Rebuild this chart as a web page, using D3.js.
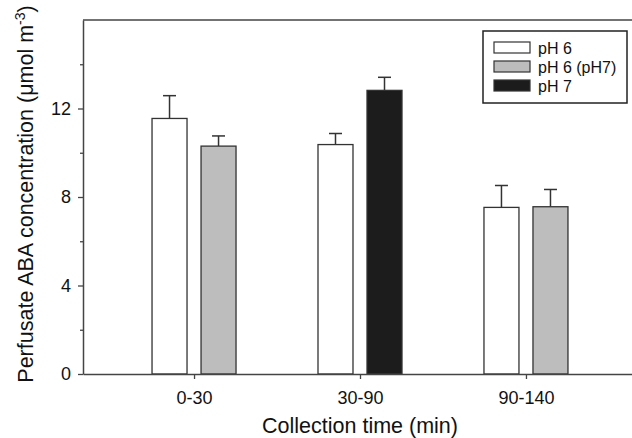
<!DOCTYPE html>
<html>
<head>
<meta charset="utf-8">
<script src="https://cdn.jsdelivr.net/npm/d3@7/dist/d3.min.js"></script>
<style>
  body { margin: 0; background: #fff; }
  svg { display: block; font-family: "Liberation Sans", Arial, sans-serif; }
</style>
</head>
<body>
<svg id="chart" width="632" height="438"></svg>
<script>
// collection periods (x categories)
var groups = ["0-30", "30-90", "90-140"];

// series names and fills
var seriesNames = ["pH 6", "pH 6 (pH7)", "pH 7"];
var seriesFill = ["#ffffff", "#bdbdbd", "#1c1c1c"];

// means per series (null = not measured in that period)
var ph6 = [11.55, 10.37, 7.53];
var ph6ph7 = [10.30, null, 7.56];
var ph7 = [null, 12.82, null];

// standard errors (upper bars only)
var ph6Err = [1.03, 0.50, 0.99];
var ph6ph7Err = [0.46, null, 0.78];
var ph7Err = [null, 0.59, null];

// axis ticks
var yMajor = [0, 4, 8, 12];
var yMinor = [2, 6, 10, 14];

var allMeans = [ph6, ph6ph7, ph7];
var allErrs = [ph6Err, ph6ph7Err, ph7Err];

var plotLeft = 83, plotRight = 637, plotTop = 20, plotBottom = 374;

var svg = d3.select("#chart");

var x = d3.scalePoint()
    .domain(groups)
    .range([plotLeft, plotRight])
    .padding(0.669);

// two bars per period
var xSlot = d3.scaleBand()
    .domain([0, 1])
    .range([-42, 42])
    .paddingInner(0.286);

var y = d3.scaleLinear()
    .domain([0, 16])
    .range([plotBottom, plotTop]);

// build bar records from the series arrays
var bars = [];
groups.forEach(function (g, gi) {
    var slot = 0;
    for (var s = 0; s < allMeans.length; s++) {
        if (allMeans[s][gi] != null) {
            bars.push({ group: g, series: s, slot: slot, value: allMeans[s][gi], err: allErrs[s][gi] });
            slot++;
        }
    }
});

function barCenter(d) {
    return x(d.group) + xSlot(d.slot) + xSlot.bandwidth() / 2;
}

// error bars
var eb = svg.append("g")
    .selectAll("g")
    .data(bars)
    .enter()
    .append("g")
    .attr("stroke", "#333")
    .attr("stroke-width", 1.5);

eb.append("line")
    .attr("x1", barCenter)
    .attr("x2", barCenter)
    .attr("y1", function (d) { return y(d.value); })
    .attr("y2", function (d) { return y(d.value + d.err); });

eb.append("line")
    .attr("x1", function (d) { return barCenter(d) - 6.5; })
    .attr("x2", function (d) { return barCenter(d) + 6.5; })
    .attr("y1", function (d) { return y(d.value + d.err); })
    .attr("y2", function (d) { return y(d.value + d.err); });

// bars
svg.append("g")
    .selectAll("rect")
    .data(bars)
    .enter()
    .append("rect")
    .attr("x", function (d) { return x(d.group) + xSlot(d.slot); })
    .attr("width", xSlot.bandwidth())
    .attr("y", function (d) { return y(d.value); })
    .attr("height", function (d) { return y(0) - y(d.value); })
    .attr("fill", function (d) { return seriesFill[d.series]; })
    .attr("stroke", "#333")
    .attr("stroke-width", 1.3);

// frame top and right
svg.append("line")
    .attr("x1", plotLeft).attr("x2", plotRight)
    .attr("y1", y(16)).attr("y2", y(16))
    .attr("stroke", "#444").attr("stroke-width", 1.5);
svg.append("line")
    .attr("x1", plotRight).attr("x2", plotRight)
    .attr("y1", y(16)).attr("y2", y(0))
    .attr("stroke", "#444").attr("stroke-width", 1.5);

// y axis
var yAxis = svg.append("g")
    .attr("transform", "translate(" + plotLeft + ",0)")
    .call(d3.axisLeft(y).tickValues(yMajor).tickSize(5).tickPadding(7).tickSizeOuter(0));

svg.append("g")
    .attr("transform", "translate(" + plotLeft + ",0)")
    .call(d3.axisLeft(y).tickValues(yMinor).tickSize(3).tickFormat("").tickSizeOuter(0))
    .select(".domain").remove();

// x axis
var xAxis = svg.append("g")
    .attr("transform", "translate(0," + plotBottom + ")")
    .call(d3.axisBottom(x).tickSize(5).tickPadding(12).tickSizeOuter(0));

[yAxis, xAxis].forEach(function (a) {
    a.select(".domain").attr("stroke", "#444").attr("stroke-width", 1.5);
    a.selectAll("text")
        .attr("fill", "#111")
        .style("font-size", "18px")
        .style("font-family", "'Liberation Sans', Arial, sans-serif");
});
svg.selectAll(".tick line").attr("stroke", "#444").attr("stroke-width", 1.3);

// axis titles
svg.append("text")
    .attr("x", (plotLeft + plotRight) / 2)
    .attr("y", 433)
    .attr("text-anchor", "middle")
    .attr("fill", "#111")
    .style("font-size", "21.5px")
    .text("Collection time (min)");

var yt = svg.append("text")
    .attr("transform", "translate(33," + ((plotTop + plotBottom) / 2 - 3) + ") rotate(-90)")
    .attr("text-anchor", "middle")
    .attr("fill", "#111")
    .style("font-size", "21.5px");
yt.append("tspan").text("Perfusate ABA concentration (\u03bcmol m");
yt.append("tspan").attr("dy", -8).style("font-size", "14px").text("-3");
yt.append("tspan").attr("dy", 8).text(")");

// legend
var legend = svg.append("g").attr("transform", "translate(483,31)");
legend.append("rect")
    .attr("width", 144)
    .attr("height", 72)
    .attr("fill", "#fff")
    .attr("stroke", "#222")
    .attr("stroke-width", 1.5);

var li = legend.selectAll("g.item")
    .data(seriesNames)
    .enter()
    .append("g")
    .attr("class", "item")
    .attr("transform", function (d, i) { return "translate(11," + (11 + i * 19) + ")"; });

li.append("rect")
    .attr("width", 36)
    .attr("height", 11)
    .attr("fill", function (d, i) { return seriesFill[i]; })
    .attr("stroke", "#333")
    .attr("stroke-width", 1.2);

li.append("text")
    .attr("x", 44)
    .attr("y", 11.5)
    .attr("fill", "#111")
    .style("font-size", "16px")
    .text(function (d) { return d; });
</script>
</body>
</html>
